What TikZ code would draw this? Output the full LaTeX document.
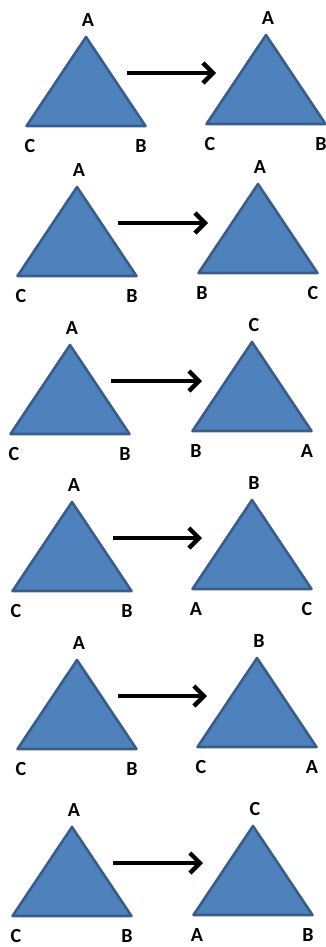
\documentclass[tikz,border=0pt]{standalone}
\usepackage{fontspec}
\setmainfont{Carlito}
\usetikzlibrary{arrows.meta,calc}
\definecolor{triFill}{RGB}{79,129,189}
\definecolor{triEdge}{RGB}{56,93,138}
\tikzset{
  vlabel/.style={font=\bfseries\fontsize{20}{21}\selectfont, text=black,
    inner sep=0pt},
  tri/.style={fill=triFill, draw=triEdge, line width=2.6pt, line join=round},
  mapflow/.style={-{Straight Barb[length=10pt,width=20pt]}, line width=4.3pt,
    draw=black}
}

\begin{document}
\begin{tikzpicture}[x=1pt,y=-1pt]
\path[use as bounding box] (0,0) rectangle (326,947);

% row / left apex / right apex / right labels (top, left, right)
\foreach \r/\lx/\ly/\rx/\ry/\tp/\bl/\br in {
    1/86/37/266/35/A/C/B,
    2/77/187/258/184/A/B/C,
    3/70/345/252/342/C/B/A,
    4/72/502/252/500/B/A/C,
    5/77/660/257/658/B/C/A,
    6/72/827/253/826/C/A/B}{
  \coordinate (l\r) at (\lx,\ly);
  \coordinate (r\r) at (\rx,\ry);

  % original triangle
  \path[tri] (l\r) -- ++(-59.5,89) -- ++(119,0) -- cycle;
  \node[vlabel] (l\r top) at ($(l\r)+(2,-17)$) {A};
  \node[vlabel] (l\r left) at ($(l\r)+(-56,109)$) {C};
  \node[vlabel] (l\r right) at ($(l\r)+(55,109)$) {B};

  % image triangle
  \path[tri] (r\r) -- ++(-59.5,89) -- ++(119,0) -- cycle;
  \node[vlabel] (r\r top) at ($(r\r)+(2,-17)$) {\tp};
  \node[vlabel] (r\r left) at ($(r\r)+(-56,109)$) {\bl};
  \node[vlabel] (r\r right) at ($(r\r)+(55,109)$) {\br};

  % mapping arrow
  \coordinate (s\r) at ($(l\r)+(41,36)$);
  \coordinate (e\r) at ($(r\r)+(-50,0)$);
  \draw[mapflow] (s\r) -- (s\r -| e\r);
}
\end{tikzpicture}
\end{document}
